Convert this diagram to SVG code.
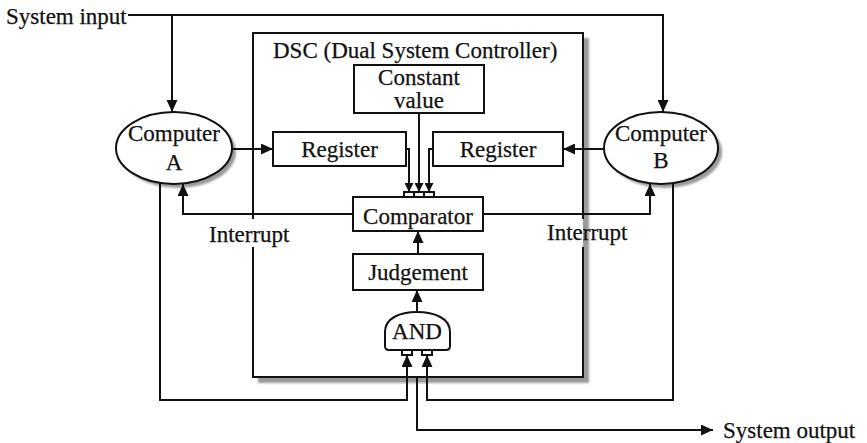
<svg xmlns="http://www.w3.org/2000/svg" width="867" height="443" viewBox="0 0 867 443">
  <style>
    text { font-family: "Liberation Serif", "Times New Roman", serif; font-size: 23px; fill: #111; stroke: #111; stroke-width: 0.25; }
    .mid { text-anchor: middle; }
    .box { fill: #fff; stroke: #111; stroke-width: 2; }
    .wire { fill: none; stroke: #111; stroke-width: 2; }
    .arrow { marker-end: url(#ah); }
    .small { marker-end: url(#ahs); }
    .shadow { fill: #9a9a9a; filter: url(#soft); }
  </style>
  <defs>
    <marker id="ah" markerWidth="12" markerHeight="11" refX="12" refY="5.5" orient="auto" markerUnits="userSpaceOnUse">
      <path d="M0,0 L12,5.5 L0,11 z" fill="#111"/>
    </marker>
    <marker id="ahs" markerWidth="9" markerHeight="9" refX="9" refY="4.5" orient="auto" markerUnits="userSpaceOnUse">
      <path d="M0,0 L9,4.5 L0,9 z" fill="#111"/>
    </marker>
    <filter id="soft" x="-10%" y="-10%" width="120%" height="120%">
      <feGaussianBlur stdDeviation="1.2"/>
    </filter>
  </defs>

  <!-- Dual System Controller enclosure -->
  <g id="dsc">
    <rect class="shadow" x="258" y="38" width="331" height="345"/>
    <rect x="253" y="33" width="330" height="344" fill="#fff"/>
    <path class="wire" stroke-width="2.5" d="M253,219 V33 H583 V219 M583,247 V377 H253 V247"/>
    <text x="273" y="58">DSC (Dual System Controller)</text>
  </g>

  <!-- Computer A -->
  <g id="computer-a">
    <ellipse class="shadow" cx="178" cy="152" rx="58" ry="36"/>
    <ellipse class="box" cx="174" cy="148" rx="58" ry="36"/>
    <text class="mid" x="174" y="141">Computer</text>
    <text class="mid" x="174" y="170">A</text>
  </g>

  <!-- Computer B -->
  <g id="computer-b">
    <ellipse class="shadow" cx="665" cy="152" rx="57" ry="36"/>
    <ellipse class="box" cx="661" cy="148" rx="57" ry="36"/>
    <text class="mid" x="661" y="141">Computer</text>
    <text class="mid" x="661" y="168">B</text>
  </g>

  <g id="constant-value">
    <rect class="box" x="354" y="65" width="130" height="48"/>
    <text class="mid" x="419" y="85">Constant</text>
    <text class="mid" x="419" y="108">value</text>
  </g>

  <g id="register-left">
    <rect class="box" x="273" y="132" width="133" height="34"/>
    <text class="mid" x="339.5" y="157">Register</text>
  </g>

  <g id="register-right">
    <rect class="box" x="433" y="132" width="130" height="34"/>
    <text class="mid" x="498" y="157">Register</text>
  </g>

  <g id="comparator">
    <rect class="box" x="353" y="197" width="130" height="34"/>
    <rect class="box" stroke-width="1.5" x="404" y="192" width="10" height="5"/>
    <rect class="box" stroke-width="1.5" x="414" y="192" width="10" height="5"/>
    <rect class="box" stroke-width="1.5" x="424" y="192" width="10" height="5"/>
    <text class="mid" x="418" y="224">Comparator</text>
  </g>

  <g id="judgement">
    <rect class="box" x="353" y="254" width="130" height="36"/>
    <text class="mid" x="418" y="280">Judgement</text>
  </g>

  <g id="and-gate">
    <path class="box" d="M385,346 V332 C385,318 400,312 417,312 C434,312 450,318 450,332 V346 Q450,350 446,350 H389 Q385,350 385,346 Z"/>
    <rect class="box" stroke-width="1.5" x="402" y="350" width="10" height="5"/>
    <rect class="box" stroke-width="1.5" x="422" y="350" width="10" height="5"/>
    <text class="mid" x="417" y="339">AND</text>
  </g>

  <!-- Connectors -->
  <g id="connectors">
    <path class="wire arrow" d="M128,15 H663 V112"/>
    <path class="wire arrow" d="M172,15 V112"/>
    <path class="wire arrow" d="M232,149 H273"/>
    <path class="wire arrow" d="M604,149 H563"/>
    <path class="wire small" d="M406,149 H409 V192"/>
    <path class="wire small" d="M419,113 V192"/>
    <path class="wire small" d="M433,149 H429 V192"/>
    <path class="wire arrow" d="M353,214 H183 V184"/>
    <path class="wire arrow" d="M483,214 H650 V184"/>
    <path class="wire arrow" d="M418,254 V231"/>
    <path class="wire arrow" d="M417,312 V290"/>
    <path class="wire arrow" d="M160,183 V400 H407 V355"/>
    <path class="wire arrow" d="M673,183 V400 H427 V355"/>
    <path class="wire arrow" d="M417,377 V430 H713"/>
  </g>

  <!-- Free labels -->
  <g id="labels">
    <text x="6" y="24">System input</text>
    <text x="209" y="242">Interrupt</text>
    <text x="547" y="240">Interrupt</text>
    <text x="723" y="438">System output</text>
  </g>
</svg>
